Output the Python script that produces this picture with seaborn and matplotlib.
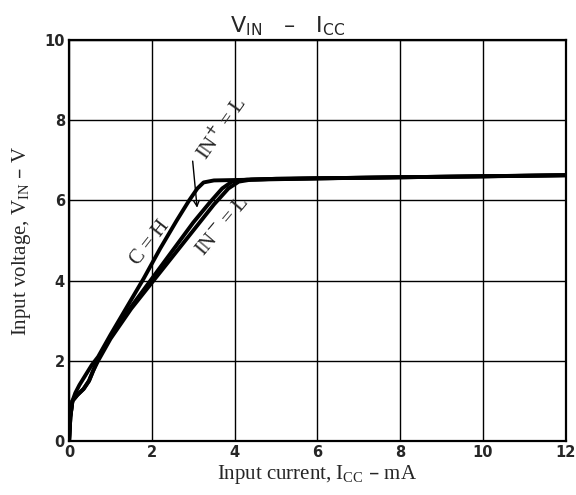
import matplotlib
matplotlib.use("Agg")
import matplotlib.pyplot as plt
import seaborn as sns
import pandas as pd

# curves (I_CC in mA, V_IN in V)
icc_ch = [0, 0.03, 0.08, 0.15, 0.25, 0.4, 0.55, 0.7, 1.0, 1.4, 1.8, 2.2, 2.6, 2.9, 3.1, 3.25, 3.5, 4.5, 6, 8, 10, 12]
vin_ch = [0, 0.6, 1.0, 1.2, 1.4, 1.65, 1.9, 2.1, 2.65, 3.35, 4.05, 4.8, 5.5, 6.0, 6.3, 6.45, 6.5, 6.52, 6.55, 6.58, 6.6, 6.63]

icc_inp = [0, 0.03, 0.08, 0.2, 0.35, 0.48, 0.58, 0.7, 1.0, 1.5, 2.0, 2.5, 3.0, 3.4, 3.7, 3.95, 4.3, 5, 12]
vin_inp = [0, 0.6, 1.0, 1.15, 1.3, 1.5, 1.75, 2.05, 2.6, 3.35, 4.05, 4.75, 5.45, 5.95, 6.3, 6.48, 6.52, 6.54, 6.63]

icc_inm = [0, 0.03, 0.08, 0.2, 0.35, 0.48, 0.58, 0.7, 1.0, 1.5, 2.0, 2.5, 3.0, 3.5, 3.85, 4.1, 4.4, 5, 12]
vin_inm = [0, 0.6, 1.0, 1.15, 1.3, 1.5, 1.75, 2.0, 2.55, 3.3, 3.95, 4.6, 5.25, 5.9, 6.3, 6.47, 6.52, 6.54, 6.63]

xticks = [0, 2, 4, 6, 8, 10, 12]
yticks = [0, 2, 4, 6, 8, 10]

sns.set_style("white")
fig = plt.figure(figsize=(5.76, 4.95), dpi=100)
ax = fig.add_axes([0.12, 0.109, 0.862, 0.81])

for xs, ys in [(icc_ch, vin_ch), (icc_inp, vin_inp), (icc_inm, vin_inm)]:
    df = pd.DataFrame({"icc": xs, "vin": ys})
    sns.lineplot(data=df, x="icc", y="vin", sort=False, color="black",
                 linewidth=2.8, ax=ax, solid_capstyle="round")

ax.set_xlim(0, 12)
ax.set_ylim(0, 10)
ax.set_xticks(xticks)
ax.set_yticks(yticks)
ax.grid(True, color="black", linewidth=1.0)
for s in ax.spines.values():
    s.set_color("black")
    s.set_linewidth(1.6)
ax.tick_params(length=0, pad=3)
for lab in ax.get_xticklabels() + ax.get_yticklabels():
    lab.set_fontweight("bold")
    lab.set_fontsize(10.5)
    lab.set_fontfamily("DejaVu Sans")

serif = "Liberation Serif"
ax.set_xlabel(r"Input current, I$_{\mathregular{CC}}$ – mA", fontfamily=serif, fontsize=15, labelpad=2)
ax.set_ylabel(r"Input voltage, V$_{\mathregular{IN}}$ – V", fontfamily=serif, fontsize=15, labelpad=8)

fig.text(0.5, 0.948, r"V$_{\mathregular{IN}}$   –   I$_{\mathregular{CC}}$", ha="center", va="center",
         fontsize=16, fontfamily="DejaVu Sans")

ax.text(1.95, 4.95, "C = H", rotation=52, ha="center", va="center", fontfamily=serif, fontsize=15)
ax.text(3.68, 7.8, "IN$^{+}$ = L", rotation=55, ha="center", va="center", fontfamily=serif, fontsize=15)
ax.text(3.72, 5.35, "IN$^{-}$ = L", rotation=50, ha="center", va="center", fontfamily=serif, fontsize=15)
ax.annotate("", xy=(3.1, 5.75), xytext=(2.98, 7.05),
            arrowprops=dict(arrowstyle="->", color="black", lw=1.0))

fig.savefig("out.png", dpi=100)
